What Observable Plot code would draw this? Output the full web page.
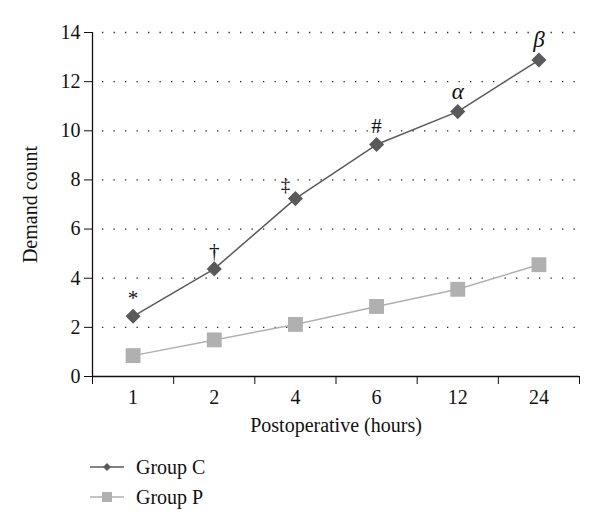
<!DOCTYPE html>
<html>
<head>
<meta charset="utf-8">
<script src="https://cdn.jsdelivr.net/npm/d3@7"></script>
<script src="https://cdn.jsdelivr.net/npm/@observablehq/plot@0.6"></script>
<style>
  body { margin: 0; background: #fff; font-family: "Liberation Serif", serif; }
  #wrap { position: relative; width: 600px; height: 531px; }
  #legend { position: absolute; left: 90px; top: 452px; font-size: 20px; color: #111; }
  .item { display: flex; align-items: center; height: 30px; }
  .item svg { margin-right: 12px; }
</style>
</head>
<body>
<div id="wrap"><div id="chart"></div><div id="legend"></div></div>
<script>
const hours = ["1", "2", "4", "6", "12", "24"];
const groupC = [2.45, 4.38, 7.24, 9.44, 10.78, 12.88];
const groupP = [0.85, 1.49, 2.12, 2.85, 3.55, 4.55];
const marksC = ["*", "†", "‡", "#", "α", "β"];
const yTicks = [0, 2, 4, 6, 8, 10, 12, 14];
const colorC = "#5a5a5a";
const colorP = "#b0b0b0";

const dataC = hours.map((h, i) => ({pos: i + 0.5, value: groupC[i], mark: marksC[i]}));
const dataP = hours.map((h, i) => ({pos: i + 0.5, value: groupP[i]}));
const boundaries = d3.range(hours.length + 1);
const centers = hours.map((h, i) => i + 0.5);

const chart = Plot.plot({
  width: 600,
  height: 440,
  marginLeft: 92,
  marginRight: 21,
  marginTop: 32,
  marginBottom: 64,
  style: {fontFamily: "Liberation Serif, serif", fontSize: "20px", color: "#111"},
  x: {type: "linear", domain: [0, hours.length]},
  y: {domain: [0, 14]},
  marks: [
    Plot.gridY(yTicks.filter(d => d > 0), {stroke: "#222", strokeOpacity: 1, strokeWidth: 1.3, strokeDasharray: "1.3,10.2", strokeDashoffset: -10}),
    Plot.axisY(yTicks, {tickSize: 8, tickPadding: 4, label: "Demand count", labelAnchor: "center", labelArrow: "none", labelOffset: 70, fontSize: 20, stroke: "#111"}),
    Plot.ruleX([0], {stroke: "#111", strokeWidth: 1.3}),
    Plot.ruleY([0], {stroke: "#111", strokeWidth: 1.3}),
    Plot.axisX(boundaries, {tickSize: 8, tickFormat: () => "", label: null, stroke: "#111"}),
    Plot.axisX(centers, {tickSize: 0, tickPadding: 13, tickFormat: d => hours[Math.floor(d)], label: "Postoperative (hours)", labelAnchor: "center", labelArrow: "none", labelOffset: 55, fontSize: 20}),
    Plot.line(dataP, {x: "pos", y: "value", stroke: colorP, strokeWidth: 1.5}),
    Plot.dot(dataP, {x: "pos", y: "value", symbol: "square", r: 8.4, fill: colorP, stroke: null}),
    Plot.line(dataC, {x: "pos", y: "value", stroke: colorC, strokeWidth: 1.5}),
    Plot.dot(dataC, {x: "pos", y: "value", symbol: "diamond2", r: 6.8, fill: colorC, stroke: null}),
    Plot.text(dataC.filter(d => d.mark !== "‡" && !"αβ".includes(d.mark)), {x: "pos", y: "value", text: "mark", dy: -18, fontSize: 21, fill: "#111"}),
    Plot.text(dataC.filter(d => "αβ".includes(d.mark)), {x: "pos", y: "value", text: "mark", dy: -20, fontSize: 23, fontStyle: "italic", fill: "#111"}),
    Plot.text(dataC.filter(d => d.mark === "‡"), {x: "pos", y: "value", text: "mark", dx: -10, dy: -14, fontSize: 19, fill: "#111"})
  ]
});
document.getElementById("chart").appendChild(chart);

const legend = document.getElementById("legend");
[["Group C", colorC, "diamond"], ["Group P", colorP, "square"]].forEach(([name, color, shape]) => {
  const item = document.createElement("div");
  item.className = "item";
  const marker = shape === "diamond"
    ? `<path d="M17,3 L21,7 L17,11 L13,7 Z" fill="${color}"/>`
    : `<rect x="12" y="2" width="10" height="10" fill="${color}"/>`;
  item.innerHTML = `<svg width="34" height="14"><line x1="0" y1="7" x2="34" y2="7" stroke="${color}" stroke-width="1.5"/>${marker}</svg><span>${name}</span>`;
  legend.appendChild(item);
});
</script>
</body>
</html>
